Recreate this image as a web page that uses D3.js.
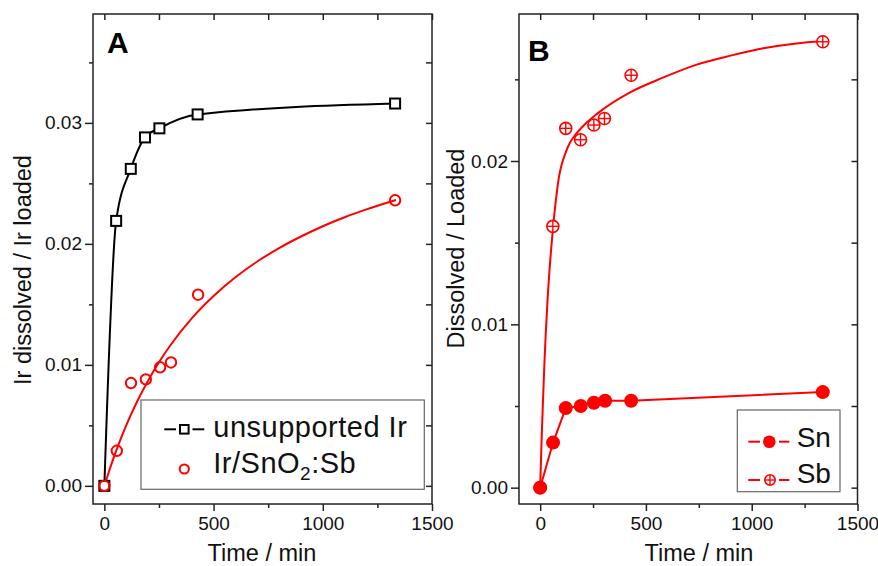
<!DOCTYPE html>
<html><head><meta charset="utf-8">
<script src="https://cdn.jsdelivr.net/npm/d3@7"></script>
<style>
body{margin:0;background:#fff}
text{font-family:"Liberation Sans",Arial,sans-serif}
</style>
</head><body><svg id="c" width="878" height="566"></svg>
<script>
// ---- tick values ----
const xTicks=[0,500,1000,1500];
const xMinor=[250,750,1250];
const yTicksA=[0,0.01,0.02,0.03];
const yMinorA=[0.005,0.015,0.025,0.035];
const yTicksB=[0,0.01,0.02];
const yMinorB=[0.005,0.015,0.025];

// ---- Panel A data ----
const timeIr=[0,54,121,186,252,427,1331];
const irUnsupported=[0,0.0219,0.0262,0.0288,0.02955,0.0307,0.0316];
const timeIrSnSb=[0,57,122,190,255,305,429,1331];
const irSnSb=[0,0.0029,0.0085,0.0088,0.0098,0.0102,0.0158,0.0236];
// fitted curve
const fitTimeA=[0,20,40,60,100,150,200,250,300,400,500,600,700,800,900,1000,1100,1200,1335];
const fitIrSnSb=[0,0.00113,0.00219,0.00318,0.00499,0.00697,0.00869,0.01021,0.01156,0.01384,0.01569,0.01724,0.01854,0.01965,0.02061,0.02146,0.0222,0.02285,0.02363];

// ---- Panel B data ----
const timeSn=[0,61,121,192,254,307,430,1336];
const snValues=[0,0.00276,0.00487,0.005,0.0052,0.00532,0.00532,0.00585];
const timeSb=[0,60,121,191,254,304,430,1336];
const sbValues=[0,0.016,0.022,0.0213,0.0222,0.0226,0.02525,0.0273];
// fitted curve
const fitTimeB=[0,8,20,35,50,60,80,90,100,120,140,160,200,270,425,580,740,900,1055,1210,1336];
const fitSb=[0,0.0034,0.0076,0.0115,0.0143,0.0158,0.0182,0.0191,0.0197,0.0205,0.0211,0.0215,0.0221,0.0229,0.0242,0.0251,0.0259,0.02645,0.0269,0.0272,0.02735];

const svg=d3.select("#c");
const RED="#ff0000";
const zip=(a,b)=>a.map((v,i)=>[v,b[i]]);

function frame(cfg){
  const {left,right,top,bottom}=cfg;
  const x=d3.scaleLinear().domain(cfg.xDomain).range([left,right]);
  const y=d3.scaleLinear().domain(cfg.yDomain).range([bottom,top]);
  const g=svg.append("g");
  const style=sel=>{sel.select(".domain").remove();
    sel.selectAll("line").attr("stroke","#222").attr("stroke-width",1.5);
    sel.selectAll("text").attr("fill","#111").style("font-size","19px");};
  g.append("g").attr("transform",`translate(0,${bottom})`)
    .call(d3.axisBottom(x).tickValues(xTicks).tickSize(7).tickPadding(6).tickFormat(d3.format("d"))).call(style);
  g.append("g").attr("transform",`translate(0,${bottom})`)
    .call(d3.axisBottom(x).tickValues(xMinor).tickSize(4).tickFormat("")).call(style);
  g.append("g").attr("transform",`translate(0,${top})`)
    .call(d3.axisTop(x).tickValues(xTicks.concat(xMinor)).tickSize(-6).tickFormat("")).call(style);
  g.append("g").attr("transform",`translate(${left},0)`)
    .call(d3.axisLeft(y).tickValues(cfg.yTicks).tickSize(8).tickPadding(3).tickFormat(d3.format(".2f"))).call(style);
  g.append("g").attr("transform",`translate(${left},0)`)
    .call(d3.axisLeft(y).tickValues(cfg.yMinor).tickSize(4).tickFormat("")).call(style);
  g.append("g").attr("transform",`translate(${right},0)`)
    .call(d3.axisRight(y).tickValues(cfg.yTicks.concat(cfg.yMinor)).tickSize(-6).tickFormat("")).call(style);
  g.append("rect").attr("x",left).attr("y",top).attr("width",right-left).attr("height",bottom-top)
    .attr("fill","none").attr("stroke","#222").attr("stroke-width",1.5);
  g.append("text").attr("x",cfg.xTitleX).attr("y",561).attr("text-anchor","middle")
    .style("font-size","23.5px").attr("fill","#111").text("Time / min");
  g.append("text").attr("transform",`translate(${cfg.yTitleX},${cfg.yTitleY}) rotate(-90)`)
    .attr("text-anchor","middle").style("font-size","23.5px").attr("fill","#111").text(cfg.yTitle);
  g.append("text").attr("x",cfg.letterX).attr("y",cfg.letterY).style("font-size","30px")
    .style("font-weight","bold").attr("fill","#000").text(cfg.letter);
  return {x,y,g};
}

// ---------- Panel A ----------
const A=frame({left:93,right:432,top:14,bottom:504,xDomain:[-52,1500],yDomain:[-0.0015,0.039],
  yTicks:yTicksA,yMinor:yMinorA,xTitleX:262,yTitleX:31,yTitleY:270,yTitle:"Ir dissolved / Ir loaded",
  letter:"A",letterX:107,letterY:53});
A.g.append("path").datum(zip(timeIr,irUnsupported)).attr("d",d3.line().x(d=>A.x(d[0])).y(d=>A.y(d[1])).curve(d3.curveMonotoneX))
  .attr("fill","none").attr("stroke","#000").attr("stroke-width",2);
A.g.append("path").datum(zip(fitTimeA,fitIrSnSb)).attr("d",d3.line().x(d=>A.x(d[0])).y(d=>A.y(d[1])).curve(d3.curveMonotoneX))
  .attr("fill","none").attr("stroke",RED).attr("stroke-width",2);
A.g.selectAll(".sq").data(zip(timeIr,irUnsupported)).join("rect")
  .attr("x",d=>A.x(d[0])-5).attr("y",d=>A.y(d[1])-5).attr("width",10).attr("height",10)
  .attr("fill","#fff").attr("stroke","#000").attr("stroke-width",2);
A.g.selectAll(".ci").data(zip(timeIrSnSb,irSnSb)).join("circle")
  .attr("cx",d=>A.x(d[0])).attr("cy",d=>A.y(d[1])).attr("r",5.2)
  .attr("fill","none").attr("stroke",RED).attr("stroke-width",2);
// legend A
const lgA=A.g.append("g");
lgA.append("rect").attr("x",141).attr("y",400).attr("width",283.3).attr("height",89.3)
  .attr("fill","#fff").attr("stroke","#666").attr("stroke-width",1.2);
lgA.append("line").attr("x1",164.3).attr("x2",176).attr("y1",429.3).attr("y2",429.3).attr("stroke","#000").attr("stroke-width",2);
lgA.append("line").attr("x1",192.5).attr("x2",204.3).attr("y1",429.3).attr("y2",429.3).attr("stroke","#000").attr("stroke-width",2);
lgA.append("rect").attr("x",184.3-4.3).attr("y",429.3-4.3).attr("width",8.6).attr("height",8.6)
  .attr("fill","#fff").attr("stroke","#000").attr("stroke-width",2);
lgA.append("circle").attr("cx",184.3).attr("cy",469).attr("r",4.6).attr("fill","none").attr("stroke",RED).attr("stroke-width",2);
lgA.append("text").attr("x",213.3).attr("y",436.7).style("font-size","29px").style("letter-spacing","0.5px").attr("fill","#111").text("unsupported Ir");
const t2=lgA.append("text").attr("x",213.3).attr("y",473.3).style("font-size","29px").style("letter-spacing","0.5px").attr("fill","#111");
t2.append("tspan").text("Ir/SnO");
t2.append("tspan").attr("dy",7).style("font-size","19px").text("2");
t2.append("tspan").attr("dy",-7).text(":Sb");

// ---------- Panel B ----------
const B=frame({left:519,right:857.5,top:14,bottom:504,xDomain:[-100,1500],yDomain:[-0.001,0.029],
  yTicks:yTicksB,yMinor:yMinorB,xTitleX:699,yTitleX:464,yTitleY:248.5,yTitle:"Dissolved / Loaded",
  letter:"B",letterX:528,letterY:61});
B.g.append("path").datum(zip(fitTimeB,fitSb)).attr("d",d3.line().x(d=>B.x(d[0])).y(d=>B.y(d[1])).curve(d3.curveMonotoneX))
  .attr("fill","none").attr("stroke",RED).attr("stroke-width",2);
function crossCircle(g,cx,cy,r){
  g.append("circle").attr("cx",cx).attr("cy",cy).attr("r",r).attr("fill","#fff").attr("stroke",RED).attr("stroke-width",1.6);
  g.append("line").attr("x1",cx-r).attr("x2",cx+r).attr("y1",cy).attr("y2",cy).attr("stroke",RED).attr("stroke-width",1.4);
  g.append("line").attr("x1",cx).attr("x2",cx).attr("y1",cy-r).attr("y2",cy+r).attr("stroke",RED).attr("stroke-width",1.4);
}
zip(timeSb,sbValues).forEach(d=>crossCircle(B.g,B.x(d[0]),B.y(d[1]),6));
B.g.append("path").datum(zip(timeSn,snValues)).attr("d",d3.line().x(d=>B.x(d[0])).y(d=>B.y(d[1])))
  .attr("fill","none").attr("stroke",RED).attr("stroke-width",2);
B.g.selectAll(".sn").data(zip(timeSn,snValues)).join("circle")
  .attr("cx",d=>B.x(d[0])).attr("cy",d=>B.y(d[1])).attr("r",7).attr("fill",RED);
// legend B
const lgB=B.g.append("g");
lgB.append("rect").attr("x",737.3).attr("y",410).attr("width",102.7).attr("height",81.7)
  .attr("fill","#fff").attr("stroke","#666").attr("stroke-width",1.2);
[[441.7],[480]].forEach(([yy])=>{
  lgB.append("line").attr("x1",748.3).attr("x2",760).attr("y1",yy).attr("y2",yy).attr("stroke",RED).attr("stroke-width",2);
  lgB.append("line").attr("x1",779).attr("x2",789.3).attr("y1",yy).attr("y2",yy).attr("stroke",RED).attr("stroke-width",2);
});
lgB.append("circle").attr("cx",769.3).attr("cy",441.7).attr("r",6.3).attr("fill",RED);
crossCircle(lgB,770,480,5.2);
lgB.append("text").attr("x",796.7).attr("y",446.7).style("font-size","28px").attr("fill","#111").text("Sn");
lgB.append("text").attr("x",796.7).attr("y",483.3).style("font-size","28px").attr("fill","#111").text("Sb");
</script></body></html>
